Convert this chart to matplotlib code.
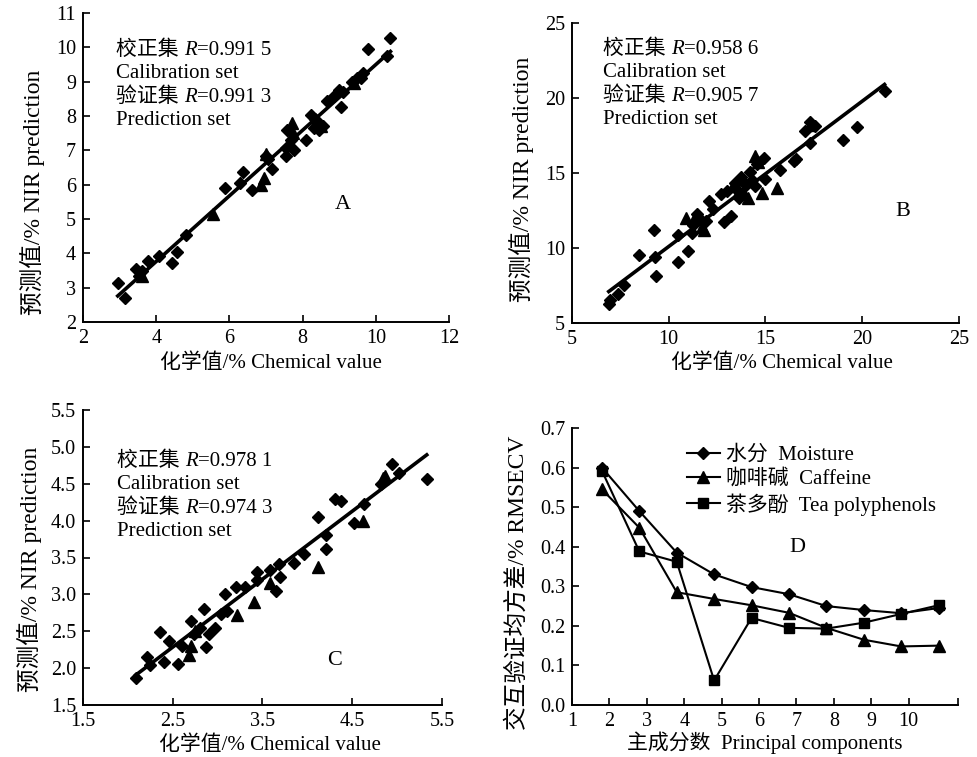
import numpy as np
import matplotlib
matplotlib.use("Agg")
import matplotlib.pyplot as plt
from matplotlib.offsetbox import TextArea, HPacker, VPacker, AnchoredOffsetbox

plt.rcParams['font.family'] = ['Liberation Serif', 'Noto Sans CJK SC']
plt.rcParams['axes.unicode_minus'] = False

# ---------------- data ----------------
a_cal_x = [2.95, 3.16, 3.46, 3.52, 3.62, 3.78, 4.09, 4.43, 4.57, 4.81, 5.89, 6.29, 6.36, 6.61,
           7.0, 7.05, 7.17, 7.55, 7.55, 7.57, 7.67, 7.76, 8.1, 8.23, 8.3, 8.4, 8.45, 8.5, 8.55,
           8.35, 8.68, 8.85, 9.0, 9.06, 9.1, 9.35, 9.48, 9.65, 9.6, 9.78, 10.31, 10.4]
a_cal_y = [3.13, 2.71, 3.53, 3.33, 3.48, 3.78, 3.93, 3.73, 4.05, 4.53, 5.90, 6.06, 6.36, 5.84,
           6.84, 6.75, 6.45, 6.84, 7.06, 7.6, 7.29, 7.02, 7.29, 8.02, 7.65, 7.8, 7.6, 7.75, 7.7,
           7.9, 8.43, 8.59, 8.75, 8.25, 8.7, 9.0, 9.1, 9.25, 9.1, 9.95, 9.75, 10.28]
a_pred_x = [3.6, 5.55, 6.87, 6.95, 7.0, 7.7, 7.75, 8.5, 9.4]
a_pred_y = [3.35, 5.15, 6.0, 6.2, 6.9, 7.8, 7.5, 7.7, 8.95]

b_cal_x = [6.9, 6.98, 7.4, 7.7, 8.47, 9.26, 9.3, 9.34, 10.48, 10.5, 10.98, 11.27, 11.44, 11.9,
           12.1, 12.7, 12.86, 13.2, 13.4, 13.65, 13.75, 14.0, 14.2, 14.45, 14.55, 14.93, 14.97,
           15.75, 16.45, 16.6, 17.05, 17.3, 17.55, 19.0, 19.75, 21.15, 11.2, 11.6, 12.3, 13.0,
           13.5, 13.8, 14.3, 17.3]
b_cal_y = [6.25, 6.5, 6.95, 7.5, 9.53, 11.19, 9.4, 8.13, 9.06, 10.86, 9.78, 11.5, 12.26, 11.83,
           13.1, 13.6, 11.7, 12.1, 14.3, 13.33, 14.7, 14.2, 15.07, 14.1, 15.6, 16.0, 14.6,
           15.2, 15.8, 15.9, 17.8, 18.4, 18.1, 17.2, 18.05, 20.5, 11.0, 11.9, 12.6, 13.8,
           13.9, 13.6, 14.5, 17.0]
b_pred_x = [10.9, 11.7, 11.8, 14.45, 14.6, 14.8, 15.6, 13.65, 14.1, 13.3, 17.3, 11.3]
b_pred_y = [12.0, 11.4, 11.2, 16.1, 15.7, 13.65, 13.97, 13.8, 13.3, 14.1, 18.2, 11.9]

c_cal_x = [2.09, 2.21, 2.25, 2.36, 2.4, 2.46, 2.56, 2.6, 2.7, 2.74, 2.8, 2.85, 2.87, 2.9, 2.97,
           3.04, 3.08, 3.11, 3.2, 3.3, 3.44, 3.44, 3.58, 3.65, 3.68, 3.7, 3.85, 3.96, 4.12, 4.21,
           4.21, 4.31, 4.37, 4.52, 4.63, 4.82, 4.94, 5.02, 5.33]
c_cal_y = [1.86, 2.15, 2.04, 2.49, 2.08, 2.37, 2.05, 2.3, 2.64, 2.46, 2.55, 2.8, 2.28, 2.46, 2.55,
           2.73, 3.0, 2.77, 3.1, 3.1, 3.3, 3.2, 3.33, 3.05, 3.41, 3.24, 3.43, 3.55, 4.05, 3.8,
           3.62, 4.3, 4.26, 3.97, 4.22, 4.5, 4.77, 4.64, 4.57]
c_pred_x = [2.68, 2.7, 2.75, 3.22, 3.4, 3.58, 4.12, 4.62, 4.84, 4.87]
c_pred_y = [2.18, 2.3, 2.5, 2.72, 2.9, 3.16, 3.37, 4.0, 4.58, 4.6]

panel_r = {"A": ("0.991 5", "0.991 3"), "B": ("0.958 6", "0.905 7"), "C": ("0.978 1", "0.974 3")}

pcs = [1, 2, 3, 4, 5, 6, 7, 8, 9, 10]
moisture = [0.600, 0.490, 0.385, 0.330, 0.298, 0.280, 0.250, 0.240, 0.232, 0.245]
caffeine = [0.545, 0.448, 0.285, 0.268, 0.252, 0.233, 0.195, 0.165, 0.148, 0.150]
polyphenols = [0.592, 0.388, 0.362, 0.062, 0.220, 0.195, 0.193, 0.208, 0.230, 0.252]

FS = 14.5      # tick labels
FA = 15        # annotation text
FX = 15        # x axis labels
FY = 17        # y axis labels
W, H = 978, 757
fig = plt.figure(figsize=(W / 100, H / 100), dpi=100)


def rect(l, r, t, b):
    return [l / W, 1 - b / H, (r - l) / W, (b - t) / H]


def style(ax):
    for s in ("top", "right"):
        ax.spines[s].set_visible(False)
    for s in ("left", "bottom"):
        ax.spines[s].set_linewidth(1.4)
    ax.tick_params(direction="in", length=5, width=1.2, labelsize=FS)
    ax.tick_params(axis="x", pad=5)
    ax.tick_params(axis="y", pad=5)


def set_labels(ax, xl, yl, xpos, ypos):
    ax.set_xlabel(xl, fontsize=FX)
    ax.set_ylabel(yl, fontsize=FY)
    ax.xaxis.set_label_coords(*xpos)
    ax.yaxis.set_label_coords(*ypos)
    ax.xaxis.label.set_va("center")
    ax.yaxis.label.set_va("center")
    ax.yaxis.label.set_ha("center")


def annot(ax, r1, r2, x, y):
    tp = dict(fontsize=FA, color="black")
    ti = dict(fontsize=FA, color="black", fontstyle="italic")

    def rline(cn, val):
        return HPacker(children=[TextArea(cn + " ", textprops=tp), TextArea("R", textprops=ti),
                                 TextArea("=" + val, textprops=tp)], sep=0, pad=0, align="baseline")
    box = VPacker(children=[rline("校正集", r1), TextArea("Calibration set", textprops=tp),
                            rline("验证集", r2), TextArea("Prediction set", textprops=tp)],
                  sep=3, pad=0, align="left")
    ab = AnchoredOffsetbox(loc="upper left", child=box, pad=0, frameon=False,
                           bbox_to_anchor=(x, y), bbox_transform=ax.transAxes, borderpad=0)
    ax.add_artist(ab)


def scatter_panel(r, cx, cy, px, py, xlim, ylim, xt, yt, key, ann_xy, lab_xy, xlpos, ylpos):
    ax = fig.add_axes(r)
    style(ax)
    ax.plot(cx, cy, linestyle="none", marker="D", ms=6.5, color="black")
    ax.plot(px, py, linestyle="none", marker="^", ms=8.5, color="black")
    k, b0 = np.polyfit(cx, cy, 1)
    xs = np.array([min(cx), max(cx)])
    ax.plot(xs, k * xs + b0, color="black", lw=2.6)
    ax.set_xlim(*xlim)
    ax.set_ylim(*ylim)
    ax.set_xticks(xt)
    ax.set_yticks(yt)
    set_labels(ax, "化学值/% Chemical value", "预测值/% NIR prediction", xlpos, ylpos)
    annot(ax, panel_r[key][0], panel_r[key][1], *ann_xy)
    ax.text(lab_xy[0], lab_xy[1], key, transform=ax.transAxes, fontsize=FA + 1,
            ha="center", va="center")
    return ax


axA = scatter_panel(rect(83, 449, 13, 322), a_cal_x, a_cal_y, a_pred_x, a_pred_y,
                    (2, 12), (2, 11), [2, 4, 6, 8, 10, 12], list(range(2, 12)), "A",
                    (0.09, 0.91), (0.71, 0.38), (0.514, -0.133), (-0.139, 0.42))
axB = scatter_panel(rect(572, 959, 23, 323), b_cal_x, b_cal_y, b_pred_x, b_pred_y,
                    (5, 25), (5, 25), [5, 10, 15, 20, 25], [5, 10, 15, 20, 25], "B",
                    (0.08, 0.945), (0.855, 0.37), (0.543, -0.133), (-0.13, 0.48))
axC = scatter_panel(rect(83, 442, 410, 705), c_cal_x, c_cal_y, c_pred_x, c_pred_y,
                    (1.5, 5.5), (1.5, 5.5), [1.5, 2.5, 3.5, 4.5, 5.5],
                    [1.5, 2.0, 2.5, 3.0, 3.5, 4.0, 4.5, 5.0, 5.5], "C",
                    (0.095, 0.86), (0.70, 0.15), (0.52, -0.136), (-0.148, 0.46))
axC.set_xticklabels(["1.5", "2.5", "3.5", "4.5", "5.5"])
axC.set_yticklabels([f"{v:.1f}" for v in [1.5, 2.0, 2.5, 3.0, 3.5, 4.0, 4.5, 5.0, 5.5]])

# ---------------- panel D ----------------
axD = fig.add_axes(rect(572, 958, 428, 705))
style(axD)
axD.plot(pcs, moisture, marker="D", ms=6.5, color="black", lw=1.5, label="水分  Moisture")
axD.plot(pcs, caffeine, marker="^", ms=8, color="black", lw=1.5, label="咖啡碱  Caffeine")
axD.plot(pcs, polyphenols, marker="s", ms=7, color="black", lw=1.5, label="茶多酚  Tea polyphenols")
axD.set_xlim(0.2, 10.52)
axD.set_ylim(0, 0.7)
axD.set_xticks(np.array(pcs) - 0.8)
axD.set_xticklabels([str(p) for p in pcs])
axD.set_xticks([10.52], minor=True)
axD.tick_params(which="minor", direction="in", length=5, width=1.2)
axD.set_yticks(np.arange(0, 0.71, 0.1))
axD.set_yticklabels([f"{v:.1f}" for v in np.arange(0, 0.71, 0.1)])
set_labels(axD, "主成分数  Principal components", "交互验证均方差/% RMSECV",
           (0.5, -0.137), (-0.14, 0.44))
axD.legend(loc="upper left", bbox_to_anchor=(0.27, 0.975), frameon=False, fontsize=FA,
           handlelength=1.6, handletextpad=0.3, labelspacing=0.2, borderpad=0)
axD.text(0.585, 0.567, "D", transform=axD.transAxes, fontsize=FA + 1, ha="center", va="center")

fig.savefig("out.png", dpi=100)
